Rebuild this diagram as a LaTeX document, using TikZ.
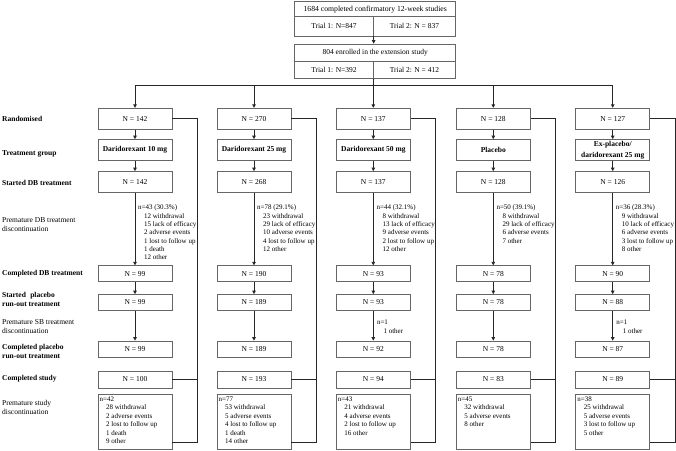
\documentclass[tikz,border=0pt]{standalone}
\usepackage{fontspec}
\setmainfont{Liberation Serif}
\usetikzlibrary{arrows.meta}
\begin{document}
\begin{tikzpicture}[x=1pt,y=-1pt,
  font=\fontsize{7.5}{8.4}\selectfont,
  box/.style={draw=black!60, line width=0.7pt, minimum width=74pt, inner sep=0pt, align=center},
  bigbox/.style={box, minimum height=21pt},
  smallbox/.style={box, minimum height=16pt},
  conn/.style={draw=black!85, line width=0.8pt},
  arr/.style={conn, -{Triangle[length=3.5pt,width=3.5pt]}},
  bl/.style={anchor=base west, inner sep=0pt, align=left, font=\fontsize{7.5}{9}\selectfont\bfseries},
  rl/.style={anchor=base west, inner sep=0pt, align=left, font=\fontsize{7.5}{9}\selectfont},
  txt/.style={anchor=base west, inner sep=0pt, align=left, font=\fontsize{7}{8.3}\selectfont},
  stxt/.style={anchor=base west, inner sep=0pt, align=left, font=\fontsize{7}{8.5}\selectfont},
]
\useasboundingbox (0,0) rectangle (676,450);

% top boxes
\node[box, minimum width=161pt, minimum height=15pt, font=\fontsize{7.7}{8.4}\selectfont] (t1) at (375.2,9.2) {1684 completed confirmatory 12-week studies};
\node[box, minimum width=78.6pt, minimum height=19.3pt] (t1l) at (334,26.35) {Trial 1: N=847};
\node[box, minimum width=82.4pt, minimum height=19.3pt] (t1r) at (414.5,26.35) {Trial 2: N = 837};
\node[box, minimum width=161pt, minimum height=17.7pt] (t2) at (375.2,52.85) {804 enrolled in the extension study};
\node[box, minimum width=78.6pt, minimum height=16.6pt] (t2l) at (334,70) {Trial 1: N=392};
\node[box, minimum width=82.4pt, minimum height=16.6pt] (t2r) at (414.5,70) {Trial 2: N = 412};
\coordinate (hl) at (373.3,85.7);
\draw[arr] (t1l.south east) -- (t2.north -| t1l.south east);
\draw[conn] (t2l.south east) -- (hl);

% columns
\foreach \c/\x/\na/\nb/\nc/\nd/\ne/\nf in {
  a/135/142/142/99/99/99/100,
  b/254/270/268/190/189/189/193,
  c/373.3/137/137/93/93/92/94,
  d/493.3/128/128/78/78/78/83,
  e/612.7/127/126/90/88/87/89}{
  \node[bigbox] (r1\c) at (\x,118.7) {N = \na};
  \node[bigbox] (r3\c) at (\x,182) {N = \nb};
  \node[smallbox] (r4\c) at (\x,273.7) {N = \nc};
  \node[smallbox] (r5\c) at (\x,302.5) {N = \nd};
  \node[smallbox] (r6\c) at (\x,349) {N = \ne};
  \node[box, minimum height=17pt] (r7\c) at (\x,379.5) {N = \nf};
  \node[box, minimum height=55pt] (r8\c) at (\x,421.5) {};
  \coordinate (v\c) at ({\x+62.5},442);
}
\node[bigbox, font=\fontsize{7.5}{8.4}\selectfont\bfseries] (r2a) at (135,150) {Daridorexant 10 mg};
\node[bigbox, font=\fontsize{7.5}{8.4}\selectfont\bfseries] (r2b) at (254,150) {Daridorexant 25 mg};
\node[bigbox, font=\fontsize{7.5}{8.4}\selectfont\bfseries] (r2c) at (373.3,150) {Daridorexant 50 mg};
\node[bigbox, font=\fontsize{7.5}{8.4}\selectfont\bfseries] (r2d) at (493.3,150) {Placebo};
\node[bigbox, font=\fontsize{7.5}{11}\selectfont\bfseries] (r2e) at (612.7,150) {Ex-placebo/\\daridorexant 25 mg};

\draw[conn] (r1a.north |- hl) -- (r1e.north |- hl);
\foreach \c in {a,b,c,d,e}{
  \draw[arr] (r1\c.north |- hl) -- (r1\c.north);
  \draw[arr] (r1\c) -- (r2\c);
  \draw[arr] (r2\c) -- (r3\c);
  \draw[arr] (r3\c) -- (r4\c);
  \draw[arr] (r4\c) -- (r5\c);
  \draw[arr] (r5\c) -- (r6\c);
  \draw[conn] (r1\c.east) -| (v\c) -- (v\c -| r8\c.east);
  \draw[conn] (r7\c.east) -- (r7\c.east -| v\c);
}

% left labels (base = baseline of last line)
\node[bl] (la) at (2,121.5) {Randomised};
\node[bl] (lb) at (2,155.6) {Treatment group};
\node[bl] (lc) at (2,185.6) {Started DB treatment};
\node[rl] (ld) at (2,231.6) {Premature DB treatment\\discontinuation};
\node[bl] (le) at (2,275.6) {Completed DB treatment};
\node[bl] (lf) at (2,306.6) {Started\hspace{2.5pt} placebo\\run-out treatment};
\node[rl] (lg) at (2,333.6) {Premature SB treatment\\discontinuation};
\node[bl] (lh) at (2,358.6) {Completed placebo\\run-out treatment};
\node[bl] (li) at (2,380.6) {Completed study};
\node[rl] (lj) at (2,414.6) {Premature study\\discontinuation};

% premature DB discontinuation
\node[txt] (da) at (138,259.6) {n=43 (30.3\%)\\\hspace*{6pt}12 withdrawal\\\hspace*{6pt}15 lack of efficacy\\\hspace*{6pt}2 adverse events\\\hspace*{6pt}1 lost to follow up\\\hspace*{6pt}1 death\\\hspace*{6pt}12 other};
\node[txt] (db) at (257,251.3) {n=78 (29.1\%)\\\hspace*{6pt}23 withdrawal\\\hspace*{6pt}29 lack of efficacy\\\hspace*{6pt}10 adverse events\\\hspace*{6pt}4 lost to follow up\\\hspace*{6pt}12 other};
\node[txt] (dc) at (376.5,251.3) {n=44 (32.1\%)\\\hspace*{6pt}8 withdrawal\\\hspace*{6pt}13 lack of efficacy\\\hspace*{6pt}9 adverse events\\\hspace*{6pt}2 lost to follow up\\\hspace*{6pt}12 other};
\node[txt] (dd) at (496.3,243.0) {n=50 (39.1\%)\\\hspace*{6pt}8 withdrawal\\\hspace*{6pt}29 lack of efficacy\\\hspace*{6pt}6 adverse events\\\hspace*{6pt}7 other};
\node[txt] (de) at (615.7,251.3) {n=36 (28.3\%)\\\hspace*{6pt}9 withdrawal\\\hspace*{6pt}10 lack of efficacy\\\hspace*{6pt}6 adverse events\\\hspace*{6pt}3 lost to follow up\\\hspace*{6pt}8 other};

% premature SB discontinuation
\node[stxt] (sc) at (376.8,333) {n=1\\\hspace*{6.5pt}1 other};
\node[stxt] (se) at (616.2,333) {n=1\\\hspace*{6.5pt}1 other};

% premature study discontinuation
\node[stxt] (pa) at ([xshift=1.8pt]r8a.west |- 0,443.8) {n=42\\\hspace*{6.5pt}28 withdrawal\\\hspace*{6.5pt}2 adverse events\\\hspace*{6.5pt}2 lost to follow up\\\hspace*{6.5pt}1 death\\\hspace*{6.5pt}9 other};
\node[stxt] (pb) at ([xshift=1.8pt]r8b.west |- 0,443.8) {n=77\\\hspace*{6.5pt}53 withdrawal\\\hspace*{6.5pt}5 adverse events\\\hspace*{6.5pt}4 lost to follow up\\\hspace*{6.5pt}1 death\\\hspace*{6.5pt}14 other};
\node[stxt] (pc) at ([xshift=1.8pt]r8c.west |- 0,435.3) {n=43\\\hspace*{6.5pt}21 withdrawal\\\hspace*{6.5pt}4 adverse events\\\hspace*{6.5pt}2 lost to follow up\\\hspace*{6.5pt}16 other};
\node[stxt] (pd) at ([xshift=1.8pt]r8d.west |- 0,426.8) {n=45\\\hspace*{6.5pt}32 withdrawal\\\hspace*{6.5pt}5 adverse events\\\hspace*{6.5pt}8 other};
\node[stxt] (pe) at ([xshift=1.8pt]r8e.west |- 0,435.3) {n=38\\\hspace*{6.5pt}25 withdrawal\\\hspace*{6.5pt}5 adverse events\\\hspace*{6.5pt}3 lost to follow up\\\hspace*{6.5pt}5 other};
\end{tikzpicture}
\end{document}
